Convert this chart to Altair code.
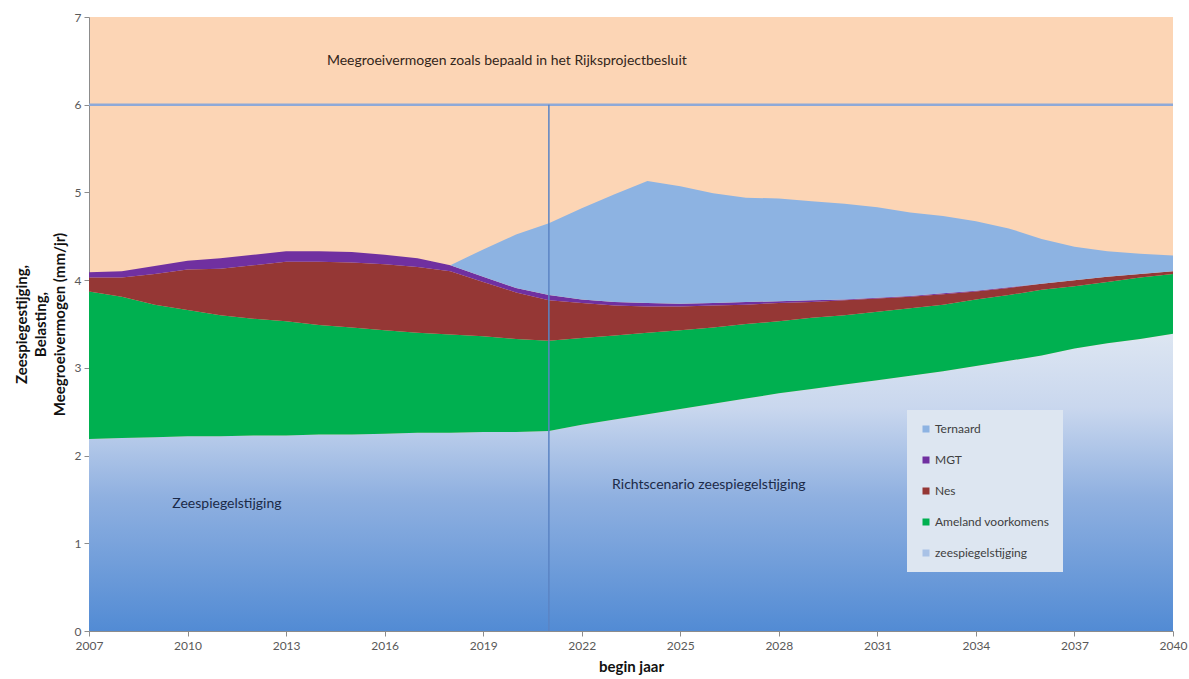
import altair as alt
import pandas as pd

years = list(range(2007, 2041))

zeespiegelstijging = [2.19, 2.20, 2.21, 2.22, 2.22, 2.23, 2.23, 2.24, 2.24, 2.25,
                      2.26, 2.26, 2.27, 2.27, 2.28, 2.35, 2.41, 2.47, 2.53, 2.59,
                      2.65, 2.71, 2.76, 2.81, 2.86, 2.91, 2.96, 3.02, 3.08, 3.14,
                      3.22, 3.28, 3.33, 3.39]
ameland = [1.68, 1.61, 1.51, 1.44, 1.38, 1.33, 1.30, 1.25, 1.22, 1.18,
           1.14, 1.12, 1.09, 1.06, 1.03, 0.99, 0.96, 0.93, 0.90, 0.87,
           0.85, 0.82, 0.81, 0.79, 0.78, 0.77, 0.76, 0.76, 0.75, 0.75,
           0.71, 0.70, 0.70, 0.68]
nes = [0.16, 0.22, 0.35, 0.46, 0.53, 0.61, 0.68, 0.72, 0.74, 0.75,
       0.75, 0.72, 0.62, 0.53, 0.46, 0.40, 0.34, 0.30, 0.27, 0.25,
       0.22, 0.21, 0.18, 0.17, 0.15, 0.13, 0.12, 0.09, 0.08, 0.07,
       0.07, 0.06, 0.04, 0.03]
mgt = [0.06, 0.07, 0.09, 0.10, 0.12, 0.12, 0.12, 0.12, 0.12, 0.11,
       0.10, 0.07, 0.06, 0.05, 0.06, 0.04, 0.04, 0.04, 0.03, 0.03,
       0.03, 0.02, 0.02, 0.01, 0.01, 0.01, 0.01, 0.01, 0.01, 0.00,
       0.00, 0.00, 0.00, 0.00]
ternaard = [0.00, 0.00, 0.00, 0.00, 0.00, 0.00, 0.00, 0.00, 0.00, 0.00,
            0.00, 0.00, 0.31, 0.61, 0.82, 1.04, 1.23, 1.39, 1.34, 1.25,
            1.19, 1.17, 1.13, 1.09, 1.03, 0.95, 0.88, 0.79, 0.67, 0.51,
            0.38, 0.29, 0.23, 0.18]

legend_order = ["Ternaard", "MGT", "Nes", "Ameland voorkomens", "zeespiegelstijging"]
legend_colors = ["#8DB3E2", "#7030A0", "#953735", "#00B050", "#A9C2E6"]

y_ticks = [0, 1, 2, 3, 4, 5, 6, 7]
x_ticks = [2007, 2010, 2013, 2016, 2019, 2022, 2025, 2028, 2031, 2034, 2037, 2040]

capacity_level = 6
scenario_year = 2021

ann_top_text = ["Meegroeivermogen zoals bepaald in het Rijksprojectbesluit"]
ann_top_x = [2019.72]
ann_top_y = [6.5]
ann_low_text = ["Zeespiegelstijging", "Richtscenario zeespiegelstijging"]
ann_low_x = [2011.2, 2025.87]
ann_low_y = [1.45, 1.66]

# ---- build tables ----
sea_df = pd.DataFrame({"jaar": years, "lo": [0.0] * len(years), "hi": zeespiegelstijging})

rows = []
stack_series = [("Ameland voorkomens", ameland), ("Nes", nes), ("MGT", mgt), ("Ternaard", ternaard)]
base = list(zeespiegelstijging)
for name, vals in stack_series:
    for i, yr in enumerate(years):
        rows.append({"jaar": yr, "serie": name, "lo": base[i], "hi": base[i] + vals[i]})
    base = [b + v for b, v in zip(base, vals)]
bands_df = pd.DataFrame(rows)

FONT = "Lato"
W, H = 1084, 614

x_scale = alt.Scale(domain=[2007, 2040], nice=False, zero=False)
y_scale = alt.Scale(domain=[0, 7], nice=False)

x_axis = alt.Axis(values=x_ticks, format="d", title="begin jaar", grid=False,
                  labelFont=FONT, labelFontSize=12, labelColor="#595959",
                  titleFont=FONT, titleFontSize=15, titleFontWeight="bold", titleColor="#111111",
                  titlePadding=8, tickSize=5, labelPadding=4,
                  domainColor="#8C8C8C", tickColor="#8C8C8C", labelFlush=False)
y_axis = alt.Axis(values=y_ticks, format="d",
                  title=["Zeespiegestijging,", "Belasting,", "Meegroeivermogen (mm/jr)"],
                  grid=False, labelFont=FONT, labelFontSize=12, labelColor="#595959",
                  titleFont=FONT, titleFontSize=15, titleFontWeight="bold", titleColor="#111111",
                  titleLineHeight=19, titlePadding=7, tickSize=5, labelPadding=3,
                  domainColor="#8C8C8C", tickColor="#8C8C8C")

gradient = alt.Gradient(
    gradient="linear",
    stops=[alt.GradientStop(color="#528BD4", offset=0),
           alt.GradientStop(color="#8FB0E0", offset=0.45),
           alt.GradientStop(color="#C9D7EE", offset=0.75),
           alt.GradientStop(color="#DDE6F2", offset=1)],
    x1=1, x2=1, y1=1, y2=0)

sea = alt.Chart(sea_df).mark_area(color=gradient, opacity=1).encode(
    x=alt.X("jaar:Q", scale=x_scale, axis=x_axis),
    y=alt.Y("hi:Q", scale=y_scale, axis=y_axis),
    y2="lo:Q",
)

bands = alt.Chart(bands_df).mark_area(opacity=1).encode(
    x=alt.X("jaar:Q", scale=x_scale),
    y=alt.Y("hi:Q", scale=y_scale),
    y2="lo:Q",
    color=alt.Color("serie:N",
                    scale=alt.Scale(domain=legend_order, range=legend_colors),
                    legend=alt.Legend(title=None, orient="none", legendX=818, legendY=393,
                                      fillColor="#DDE6F1", padding=13, rowPadding=19,
                                      symbolType="square", symbolSize=49, symbolStrokeWidth=0,
                                      labelFont=FONT, labelFontSize=12, labelColor="#404040",
                                      labelOffset=3, symbolOpacity=1)),
)

hrule_df = pd.DataFrame({"x": [years[0]], "x2": [years[-1]], "y": [capacity_level]})
hrule = alt.Chart(hrule_df).mark_rule(color="#8EA9D8", strokeWidth=2.5).encode(
    x=alt.X("x:Q", scale=x_scale), x2="x2:Q", y=alt.Y("y:Q", scale=y_scale))

vrule_df = pd.DataFrame({"x": [scenario_year], "y": [0], "y2": [capacity_level]})
vrule = alt.Chart(vrule_df).mark_rule(color="#5B84C4", strokeWidth=1.5).encode(
    x=alt.X("x:Q", scale=x_scale), y=alt.Y("y:Q", scale=y_scale), y2="y2:Q")

top_df = pd.DataFrame({"t": ann_top_text, "x": ann_top_x, "y": ann_top_y})
top_text = alt.Chart(top_df).mark_text(font=FONT, fontSize=14, color="#33261A",
                                       align="center", baseline="middle").encode(
    x=alt.X("x:Q", scale=x_scale), y=alt.Y("y:Q", scale=y_scale), text="t:N")

low_df = pd.DataFrame({"t": ann_low_text, "x": ann_low_x, "y": ann_low_y})
low_text = alt.Chart(low_df).mark_text(font=FONT, fontSize=14, color="#1B2A48",
                                       align="center", baseline="middle").encode(
    x=alt.X("x:Q", scale=x_scale), y=alt.Y("y:Q", scale=y_scale), text="t:N")

chart = alt.layer(sea, bands, hrule, vrule, top_text, low_text).properties(
    width=W, height=H,
    autosize=alt.AutoSizeParams(type="none"),
    padding={"left": 89, "top": 17, "right": 16, "bottom": 48},
    background="white",
).configure_view(fill="#FCD5B5", stroke=None)

chart.save("out.html", embed_options={"renderer": "svg", "actions": False})
